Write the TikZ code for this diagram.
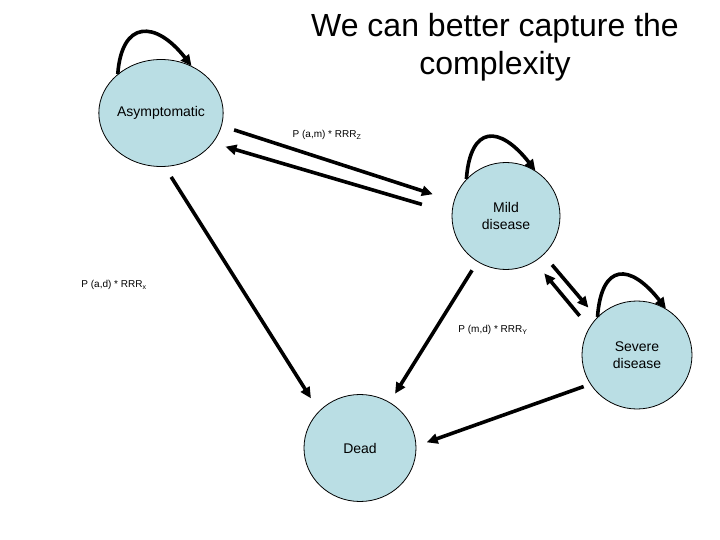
\documentclass[tikz,border=0pt]{standalone}
\usepackage{fontspec}
\setmainfont{Liberation Sans}
\usetikzlibrary{arrows.meta,shapes.geometric}
\definecolor{statefill}{RGB}{186,222,228}
\tikzset{
  state/.style={ellipse,draw=black,line width=0.8pt,fill=statefill,
    minimum width=112pt,minimum height=107pt,inner sep=0pt,align=center,
    font=\fontsize{14}{16.5}\selectfont},
  flow/.style={line width=3.6pt,-{Triangle[length=11pt,width=10pt]}},
  loopflow/.style={line width=3.6pt,-{Triangle[length=11pt,width=10pt]}},
  rate/.style={font=\fontsize{10}{12}\selectfont,inner sep=0pt},
  title/.style={font=\fontsize{32}{38.5}\selectfont,align=center,inner sep=0pt}
}
\begin{document}
\begin{tikzpicture}[x=1pt,y=-1pt]
\useasboundingbox (0,0) rectangle (720,540);
\node[title] (ttl) at (495,47) {We can better capture the\\complexity};
\node[state] (asym) at (161,113) {Asymptomatic};
\node[state,minimum width=108pt,minimum height=107pt] (mild) at (506,216) {Mild\\disease};
\node[state,minimum width=110pt,minimum height=108pt] (sev) at (637,355) {Severe\\disease};
\node[state] (dead) at (360,448) {Dead};
% self loops
\draw[loopflow] (asym.138) .. controls +(4,-54) and +(-36,-46) .. (asym.57);
\draw[loopflow] (mild.137) .. controls +(4,-54) and +(-36,-46) .. (mild.57);
\draw[loopflow] (sev.136) .. controls +(4,-54) and +(-36,-46) .. (sev.58);
% transitions
\draw[flow,shorten <=13pt,shorten >=22pt] (asym.-12) -- (mild.164);
\draw[flow,shorten <=31pt,shorten >=13pt] (mild.177) -- (asym.-30);
\draw[flow,shorten <=12pt,shorten >=15pt] (asym.-86) -- (dead.138);
\draw[flow,shorten <=10pt,shorten >=10pt] (mild.-122) -- (dead.57.5);
\draw[flow,shorten <=13pt,shorten >=13pt] (mild.-46) -- (sev.137);
\draw[flow,shorten <=15pt,shorten >=15pt] (sev.150.6) -- (mild.-58.6);
\draw[flow,shorten <=7pt,shorten >=11pt] (sev.212) -- (dead.2);
% labels
\node[rate] (lam) at (327,135) {P (a,m) * RRR\textsubscript{Z}};
\node[rate] (lad) at (114,285) {P (a,d) * RRR\textsubscript{x}};
\node[rate] (lmd) at (493,330) {P (m,d) * RRR\textsubscript{Y}};
\end{tikzpicture}
\end{document}
